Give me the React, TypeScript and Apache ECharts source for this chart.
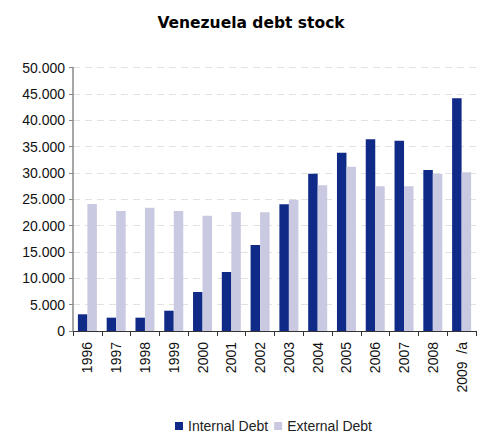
import React, { useEffect, useRef } from "react";
import * as echarts from "echarts";

const categories = ["1996", "1997", "1998", "1999", "2000", "2001", "2002", "2003", "2004", "2005", "2006", "2007", "2008", "2009  /a"];
const internalDebt = [3170, 2530, 2530, 3850, 7400, 11200, 16320, 24040, 29850, 33840, 36370, 36110, 30550, 44150];
const externalDebt = [24100, 22770, 23400, 22770, 21880, 22580, 22520, 24920, 27640, 31180, 27450, 27450, 29850, 30110];

const FONT = "'Liberation Sans', Arial, sans-serif";

export default function App() {
  const ref = useRef<HTMLDivElement>(null);
  useEffect(() => {
    if (!ref.current) return;
    const chart = echarts.init(ref.current, undefined, { renderer: "svg" });
    chart.setOption({
      animation: false,
      backgroundColor: "#ffffff",
      title: {
        text: "Venezuela debt stock",
        left: 246,
        textAlign: "center",
        top: 10,
        textStyle: { fontFamily: "'DejaVu Sans', Verdana, sans-serif", fontWeight: "bold", fontSize: 15.5, color: "#000" },
      },
      legend: {
        top: 419,
        left: 175,
        padding: 0,
        itemWidth: 8,
        itemHeight: 8,
        itemGap: 6,
        icon: "rect",
        textStyle: { fontFamily: FONT, fontSize: 14, color: "#222" },
        data: ["Internal Debt", "External Debt"],
      },
      grid: { left: 73, right: 9, top: 67.5, bottom: 105, containLabel: false },
      xAxis: {
        type: "category",
        data: categories,
        axisLine: { lineStyle: { color: "#333", width: 1 } },
        axisTick: { show: true, alignWithLabel: false, length: 5, lineStyle: { color: "#333" } },
        axisLabel: { rotate: 90, fontFamily: FONT, fontSize: 14, color: "#111", margin: 11, interval: 0 },
      },
      yAxis: {
        type: "value",
        min: 0,
        max: 50000,
        interval: 5000,
        axisLine: { show: true, lineStyle: { color: "#888", width: 1.5 } },
        axisTick: { show: true, length: 4, lineStyle: { color: "#888" } },
        axisLabel: {
          fontFamily: FONT,
          fontSize: 14,
          color: "#111",
          margin: 8,
          formatter: (v: number) => (v === 0 ? "0" : (v / 1000).toFixed(3)),
        },
        splitLine: { show: true, lineStyle: { color: "#e2e2e2", type: [7, 5] } },
      },
      series: [
        {
          name: "Internal Debt",
          type: "bar",
          data: internalDebt,
          barWidth: 9.5,
          barGap: "0%",
          itemStyle: { color: "#102a87" },
        },
        {
          name: "External Debt",
          type: "bar",
          data: externalDebt,
          barWidth: 9.5,
          barGap: "0%",
          itemStyle: { color: "#c9c9e1" },
        },
      ],
    });
    return () => chart.dispose();
  }, []);
  return (
    <div style={{ position: "absolute", left: 0, top: 0 }}>
      <div ref={ref} style={{ width: 485, height: 436 }} />
    </div>
  );
}
